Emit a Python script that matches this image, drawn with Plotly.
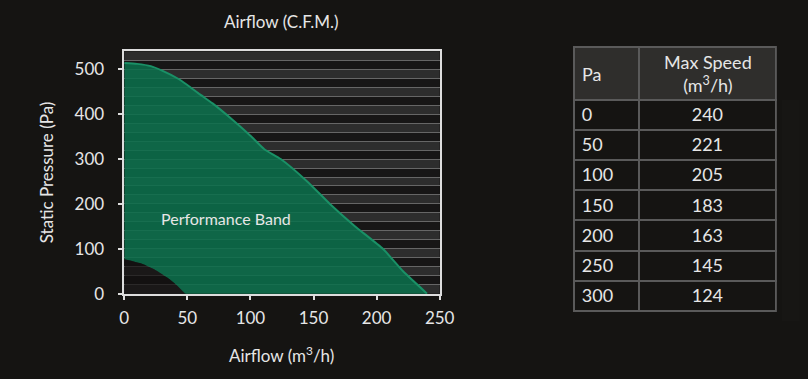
import plotly.graph_objects as go

# ---- data ----
curve_airflow = [0, 10, 21, 30, 42, 50, 60, 70, 86, 100, 111, 124, 145, 163, 183, 205, 221, 240]
curve_pressure = [514, 512, 507, 497, 480, 465, 444, 424, 387, 352, 322, 300, 250, 200, 150, 100, 50, 0]
min_airflow = [0, 14, 24, 34, 42, 48.5]
min_pressure = [77, 67, 54, 36, 18, 0]

x_ticks = [0, 50, 100, 150, 200, 250]
y_ticks = [0, 100, 200, 300, 400, 500]

table_headers = ["Pa", "Max Speed<br>(m<sup>3</sup>/h)"]
table_pa = [0, 50, 100, 150, 200, 250, 300]
table_speed = [240, 221, 205, 183, 163, 145, 124]

BG = "#151412"
TXT = "#e6e6e6"
FONT = "Lato"
W, H = 808, 379

fig = go.Figure()

band_x = curve_airflow + min_airflow[::-1]
band_y = curve_pressure + min_pressure[::-1]
fig.add_trace(go.Scatter(
    x=band_x, y=band_y, mode="lines", fill="toself",
    fillcolor="rgba(10,112,76,0.86)",
    line=dict(width=0, shape="spline", smoothing=0.5),
    hoverinfo="skip", showlegend=False))
fig.add_trace(go.Scatter(
    x=curve_airflow, y=curve_pressure, mode="lines",
    line=dict(color="#1a9066", width=2, shape="spline", smoothing=0.5),
    hoverinfo="skip", showlegend=False))
fig.add_trace(go.Scatter(
    x=min_airflow, y=min_pressure, mode="lines", fill="tozeroy",
    fillcolor="rgba(18,16,15,0.7)",
    line=dict(width=0, shape="spline", smoothing=0.5),
    hoverinfo="skip", showlegend=False))

# stripe bands (decorative)
shapes = []
y0 = 0
while y0 < 540:
    shapes.append(dict(type="rect", xref="x domain", yref="y", x0=0, x1=1,
                       y0=y0, y1=min(y0 + 20, 540), fillcolor="#2d2d2d",
                       line=dict(width=0), layer="below"))
    y0 += 40

# table (header texts drawn as annotations so they can be centred vertically)
fig.add_trace(go.Table(
    domain=dict(x=[583.3 / W, 791.3 / W], y=[1 - 330 / H, 1 - 48.3 / H]),
    columnwidth=[67, 141],
    header=dict(
        values=["", ""],
        fill_color="#2f2e2c", line=dict(color="#5a5a5a", width=2),
        font=dict(family=FONT, size=15, color=TXT),
        align=["left", "center"], height=52.5),
    cells=dict(
        values=[table_pa, table_speed],
        fill_color=BG, line=dict(color="#5a5a5a", width=2),
        font=dict(family=FONT, size=18, color=TXT),
        align=["left", "center"], height=30.2),
))

axis_common = dict(
    showline=True, linecolor="#dddddd", linewidth=1.5, mirror=True,
    ticks="outside", ticklen=5, tickcolor="#dddddd", tickwidth=1.5,
    tickfont=dict(family=FONT, size=17, color=TXT), zeroline=False,
)

ann_font = dict(family=FONT, size=17, color=TXT)
fig.update_layout(
    width=W, height=H,
    paper_bgcolor=BG, plot_bgcolor="#171616",
    margin=dict(l=0, r=0, t=0, b=0),
    shapes=shapes,
    font=dict(family=FONT, color=TXT),
    xaxis=dict(domain=[122.3 / W, 445.7 / W], range=[0, 250],
               tickvals=x_ticks, showgrid=False, ticklabelstandoff=3,
               **axis_common),
    yaxis=dict(domain=[(H - 301.7) / H, (H - 52.7) / H], range=[0, 540],
               tickvals=y_ticks, showgrid=True, gridcolor="#666666",
               gridwidth=1.2, ticklabelstandoff=10,
               minor=dict(dtick=20, showgrid=True, gridcolor="#666666",
                          gridwidth=1.2, ticks=""),
               **axis_common),
    annotations=[
        dict(text="Airflow (C.F.M.)", x=284 / W, y=1 - 22 / H, xref="paper",
             yref="paper", xanchor="center", yanchor="middle",
             showarrow=False, font=ann_font),
        dict(text="Airflow (m<sup>3</sup>/h)", x=284 / W, y=1 - 364 / H,
             xref="paper", yref="paper", xanchor="center", yanchor="middle",
             showarrow=False, font=ann_font),
        dict(text="Static Pressure (Pa)", x=42 / W, y=1 - 177 / H,
             xref="paper", yref="paper", xanchor="center", yanchor="middle",
             showarrow=False, textangle=-90, font=ann_font),
        dict(text="Performance Band", x=81, y=168, xref="x", yref="y",
             xanchor="center", yanchor="middle",
             showarrow=False, font=dict(family=FONT, size=16, color=TXT)),
        dict(text=table_headers[0], x=590 / W, y=1 - 76 / H, xref="paper",
             yref="paper", xanchor="left", yanchor="middle",
             showarrow=False, font=dict(family=FONT, size=18, color=TXT)),
        dict(text=table_headers[1], x=720.8 / W, y=1 - 75.5 / H,
             xref="paper", yref="paper", xanchor="center", yanchor="middle",
             showarrow=False, font=dict(family=FONT, size=18, color=TXT)),
    ],
)

fig.write_html(
    "out.html",
    config={"displayModeBar": False},
    post_script="document.body.style.margin='0';"
                "document.body.style.background='#151412';",
)
